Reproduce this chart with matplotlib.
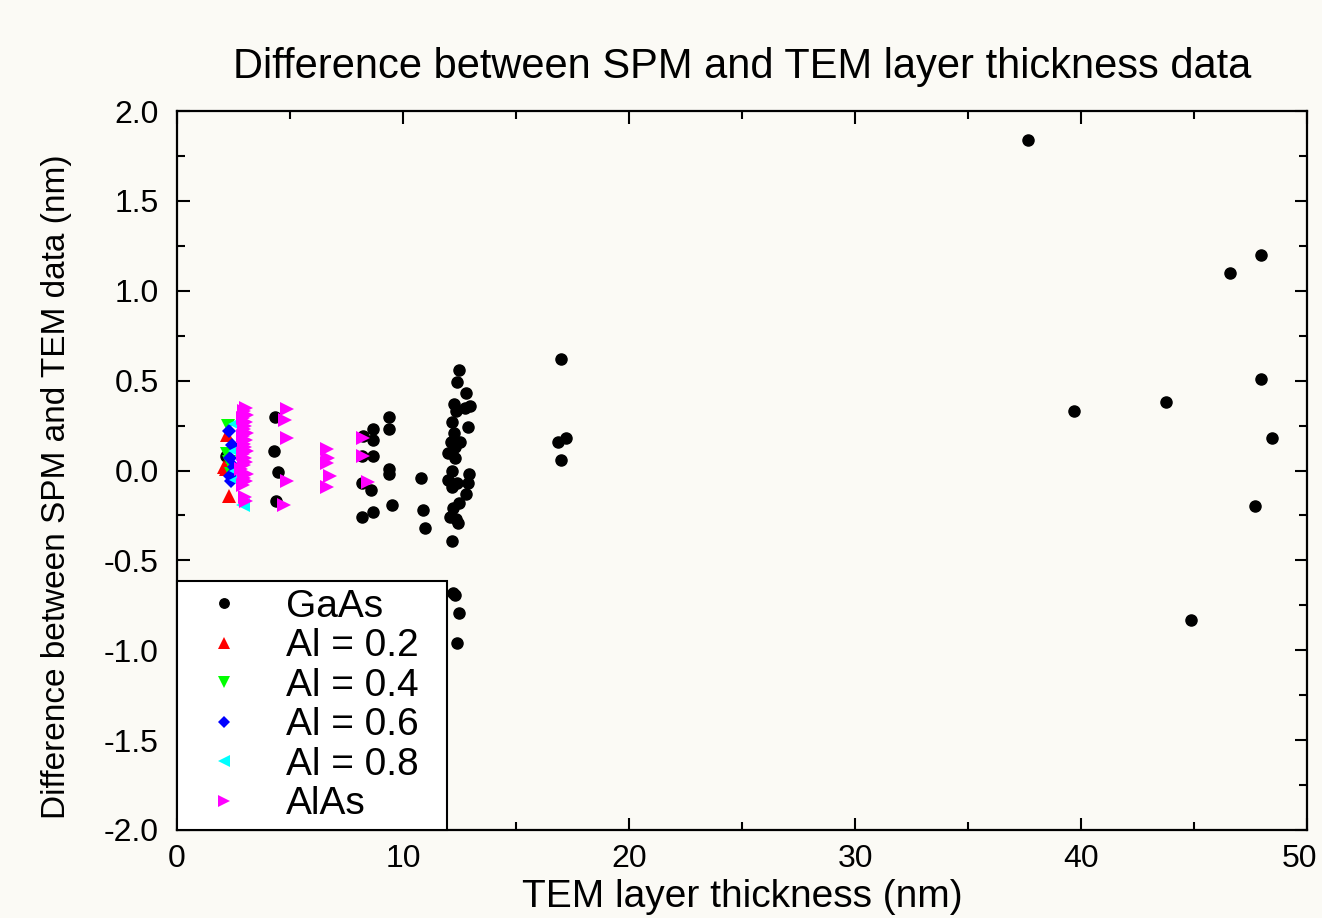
import matplotlib.pyplot as plt
import matplotlib.transforms as mtransforms
from matplotlib.ticker import MultipleLocator

plt.rcParams['font.family'] = ['Liberation Sans', 'DejaVu Sans']

# GaAs layers
gaas_x = [37.65, 39.69, 43.76, 44.87, 46.59, 47.96, 47.96, 48.45, 47.70,
          16.99, 16.86, 17.21, 16.99,
          12.49, 12.38, 12.77, 12.26, 12.96, 12.74, 12.35, 12.18, 12.89, 12.27,
          12.11, 12.52, 12.30, 12.00, 12.30, 12.15, 12.93, 12.00, 12.38, 12.89,
          12.15, 12.79, 12.49, 12.23, 12.08, 12.35, 12.45, 12.15,
          12.30, 12.20, 12.49, 12.38,
          10.80, 10.90, 10.97,
          9.38, 8.69, 9.38, 8.22, 8.69, 8.17, 8.69, 9.38, 9.38, 8.17, 8.57,
          9.50, 8.69, 8.17,
          4.34, 4.29, 4.48, 4.38, 2.17]
gaas_y = [1.84, 0.33, 0.38, -0.83, 1.10, 1.20, 0.51, 0.18, -0.20,
          0.62, 0.16, 0.18, 0.06,
          0.56, 0.49, 0.43, 0.37, 0.36, 0.35, 0.33, 0.27, 0.24, 0.21,
          0.16, 0.16, 0.13, 0.10, 0.07, 0.00, -0.02, -0.05, -0.07, -0.07,
          -0.09, -0.13, -0.18, -0.21, -0.26, -0.27, -0.29, -0.39,
          -0.69, -0.68, -0.79, -0.96,
          -0.04, -0.22, -0.32,
          0.30, 0.23, 0.23, 0.19, 0.17, 0.08, 0.08, 0.01, -0.02, -0.07, -0.11,
          -0.19, -0.23, -0.26,
          0.30, 0.11, -0.01, -0.17, 0.08]

al02_x = [2.20, 2.15, 2.10, 2.30]
al02_y = [0.20, 0.01, 0.02, -0.14]

al04_x = [2.25, 2.30, 2.20, 2.40]
al04_y = [0.25, 0.05, 0.09, -0.02]

al06_x = [2.30, 2.45, 2.35, 2.35, 2.40, 2.50]
al06_y = [0.22, 0.14, 0.07, -0.03, -0.06, 0.02]

al08_x = [2.55, 2.55, 2.60, 2.90, 2.60]
al08_y = [0.26, 0.11, 0.00, -0.19, -0.05]

alas_x = [4.85, 4.78, 4.85, 4.85, 4.75,
          6.65, 6.69, 6.62, 6.77, 6.65,
          8.23, 8.23, 8.45,
          3.05, 2.95, 3.10, 2.90, 3.05, 3.00, 2.95, 3.10, 2.90, 3.05, 2.95, 3.00,
          3.10, 2.90, 3.00, 3.05, 2.95, 2.85, 3.10, 2.95, 3.05, 2.90, 3.00, 3.05]
alas_y = [0.34, 0.28, 0.18, -0.06, -0.19,
          0.12, 0.07, 0.04, -0.03, -0.09,
          0.18, 0.08, -0.065,
          0.35, 0.33, 0.31, 0.29, 0.27, 0.25, 0.23, 0.21, 0.19, 0.17, 0.15, 0.13,
          0.11, 0.09, 0.07, 0.05, 0.03, 0.01, -0.02, -0.04, -0.06, -0.08, -0.15, -0.17]

x_ticks = [0, 10, 20, 30, 40, 50]

bg = '#fbfaf5'
fig = plt.figure(figsize=(13.22, 9.18), dpi=100, facecolor=bg)
ax = fig.add_axes([0.1339, 0.0959, 0.8548, 0.7831], facecolor=bg)

ax.plot(gaas_x, gaas_y, 'o', color='black', ms=8, mec='black', label='GaAs')
ax.plot(al02_x, al02_y, '^', color='#ff0000', ms=9.5, mew=0, label='Al = 0.2')
ax.plot(al04_x, al04_y, 'v', color='#00ff00', ms=9.5, mew=0, label='Al = 0.4')
ax.plot(al06_x, al06_y, 'D', color='#0000ff', ms=7.5, mew=0, label='Al = 0.6')
ax.plot(al08_x, al08_y, '<', color='#00ffff', ms=9.5, mew=0, label='Al = 0.8')
ax.plot(alas_x, alas_y, '>', color='#ff00ff', ms=9.5, mew=0, label='AlAs')

ax.set_xlim(0, 50)
ax.set_ylim(-2.0, 2.0)
ax.set_xticks(x_ticks)
ax.xaxis.set_minor_locator(MultipleLocator(5))
ax.yaxis.set_major_locator(MultipleLocator(0.5))
ax.yaxis.set_minor_locator(MultipleLocator(0.25))
ax.yaxis.set_major_formatter(plt.FormatStrFormatter('%.1f'))
ax.tick_params(which='both', direction='in', top=True, right=True,
               width=1.5, labelsize=23)
ax.tick_params(axis='y', pad=13)
ax.tick_params(axis='x', pad=10)
ax.tick_params(which='major', length=9)
ax.tick_params(which='minor', length=6)
for s in ax.spines.values():
    s.set_linewidth(1.6)

# nudge the "50" label left so it stays inside the figure
lab = ax.xaxis.get_major_ticks()[-1].label1
lab.set_transform(lab.get_transform() +
                  mtransforms.ScaledTranslation(-8 / 100, 0, fig.dpi_scale_trans))

ax.set_title('Difference between SPM and TEM layer thickness data', fontsize=30, pad=24)
ax.set_ylabel('Difference between SPM and TEM data (nm)', fontsize=24)
ax.yaxis.set_label_coords(-0.093, 0.477)
fig.text(0.5 * (0.1339 + 0.9887), 3 / 918, 'TEM layer thickness (nm)',
         fontsize=28, ha='center', va='bottom')

leg = ax.legend(loc='lower left', bbox_to_anchor=(0, 0, 0.239, 0.348),
                mode='expand', borderaxespad=0,
                fontsize=28, markerscale=0.85, fancybox=False, framealpha=1,
                edgecolor='black', handletextpad=0.6, labelspacing=0.09,
                borderpad=0.2, handlelength=2.0)
leg.get_frame().set_linewidth(1.5)

fig.savefig('out.png', dpi=100, facecolor=bg)
